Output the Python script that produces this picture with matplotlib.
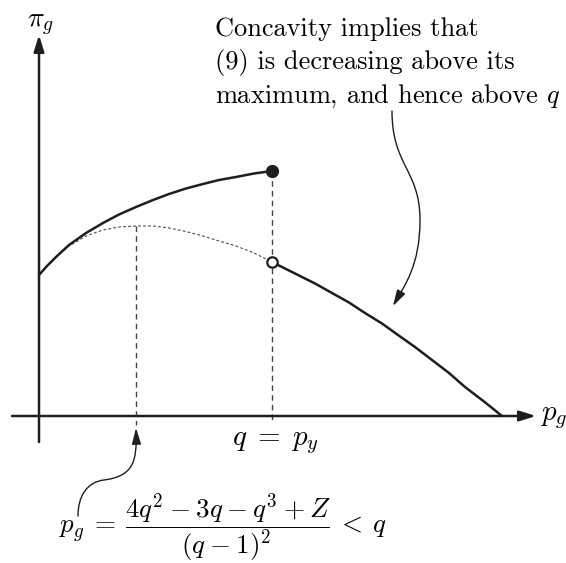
import numpy as np
import matplotlib.pyplot as plt
from matplotlib.path import Path
from matplotlib.patches import FancyArrowPatch

plt.rcParams['mathtext.fontset'] = 'cm'
plt.rcParams['font.family'] = 'cmr10'
plt.rcParams['axes.unicode_minus'] = False

INK = '#1e1e1e'

# profit when p_g <= q (concave, rising up to the jump at q)
upper_x = [0.0, 0.08, 0.17, 0.30, 0.47, 0.64, 0.80, 0.97, 1.14, 1.30, 1.47, 1.64, 1.80, 1.97, 2.15, 2.33]
upper_y = [1.41, 1.50, 1.59, 1.71, 1.83, 1.93, 2.015, 2.09, 2.16, 2.22, 2.275, 2.32, 2.36, 2.39, 2.425, 2.45]

# profit function (9) continued below q (dotted), peaking at its maximum
dotted_x = [0.0, 0.08, 0.17, 0.30, 0.47, 0.64, 0.80, 0.97, 1.14, 1.30, 1.47, 1.64, 1.80, 1.97, 2.14, 2.33]
dotted_y = [1.41, 1.50, 1.59, 1.70, 1.80, 1.86, 1.89, 1.90, 1.90, 1.88, 1.845, 1.80, 1.75, 1.70, 1.635, 1.54]

# profit for p_g > q, falling to zero
lower_x = [2.33, 2.45, 2.59, 2.76, 2.93, 3.10, 3.26, 3.43, 3.59, 3.76, 3.93, 4.10, 4.26, 4.45, 4.63]
lower_y = [1.54, 1.48, 1.41, 1.325, 1.23, 1.135, 1.03, 0.925, 0.81, 0.69, 0.56, 0.43, 0.29, 0.145, 0.0]

q = 2.33
p_max = 0.97
pi_max = 1.90
pi_jump_hi = 2.45
pi_jump_lo = 1.54

text_lines = ['Concavity implies that',
              '(9) is decreasing above its',
              'maximum, and hence above $q$']

fig = plt.figure(figsize=(5.66, 5.63), dpi=100)
ax = fig.add_axes([0, 0, 1, 1])
ax.set_xlim(-0.39, 5.27)
ax.set_ylim(-1.47, 4.16)
ax.axis('off')

# axes with arrow heads
ax.annotate('', xy=(4.97, 0), xytext=(-0.27, 0),
            arrowprops=dict(arrowstyle='-|>,head_length=0.7,head_width=0.22',
                            lw=1.8, color=INK, shrinkA=0, shrinkB=0, mutation_scale=14))
ax.annotate('', xy=(0, 3.81), xytext=(0, -0.26),
            arrowprops=dict(arrowstyle='-|>,head_length=0.7,head_width=0.22',
                            lw=1.8, color=INK, shrinkA=0, shrinkB=0, mutation_scale=14))

# dashed guides
ax.plot([p_max, p_max], [pi_max, -0.09], ls=(0, (4, 3)), lw=1.0, color='#444')
ax.plot([q, q], [pi_jump_hi, -0.07], ls=(0, (4, 3)), lw=1.0, color='#444')

ax.plot(dotted_x, dotted_y, ls=(0, (2.5, 2)), lw=0.8, color='#4a4a4a')
ax.plot(upper_x, upper_y, lw=1.8, color=INK, solid_capstyle='round', solid_joinstyle='round')
ax.plot(lower_x, lower_y, lw=1.8, color=INK, solid_capstyle='round', solid_joinstyle='round')

ax.plot([q], [pi_jump_hi], 'o', ms=8.5, color=INK, zorder=5)
ax.plot([q], [pi_jump_lo], 'o', ms=7.5, mfc='white', mec=INK, mew=1.6, zorder=5)

# labels
ax.text(-0.12, 3.89, r'$\pi_g$', fontsize=20, ha='left', va='baseline')
ax.text(5.01, -0.02, r'$p_g$', fontsize=21, ha='left', va='center')
ax.text(2.36, -0.27, r'$q\;=\;p_y$', fontsize=21, ha='center', va='center')
ax.text(1.84, -1.12,
        r'$p_g\:=\:\dfrac{4q^2\:{-}\:3q\:{-}\:q^3\:{+}\:Z}{(q\:{-}\:1)^2}\:<\:q$',
        fontsize=19.5, ha='center', va='center')

for i, line in enumerate(text_lines):
    ax.text(1.76, 3.80 - 0.335 * i, line, fontsize=19, ha='left', va='baseline')

# curved pointers
top_path = Path([(3.53, 3.05), (3.53, 2.50), (3.81, 2.46), (3.81, 1.96),
                 (3.81, 1.51), (3.66, 1.31), (3.54, 1.10)],
                [Path.MOVETO, Path.CURVE4, Path.CURVE4, Path.CURVE4,
                 Path.CURVE4, Path.CURVE4, Path.CURVE4])
bottom_path = Path([(0.39, -1.00), (0.39, -0.80), (0.48, -0.66), (0.65, -0.64),
                    (0.95, -0.60), (0.98, -0.45), (0.97, -0.12)],
                   [Path.MOVETO, Path.CURVE4, Path.CURVE4, Path.CURVE4,
                    Path.CURVE4, Path.CURVE4, Path.CURVE4])
for p in (top_path, bottom_path):
    ax.add_patch(FancyArrowPatch(path=p, arrowstyle='-|>,head_length=0.7,head_width=0.2',
                                 mutation_scale=14, lw=1.0, color=INK))

fig.savefig('out.png', dpi=100)
